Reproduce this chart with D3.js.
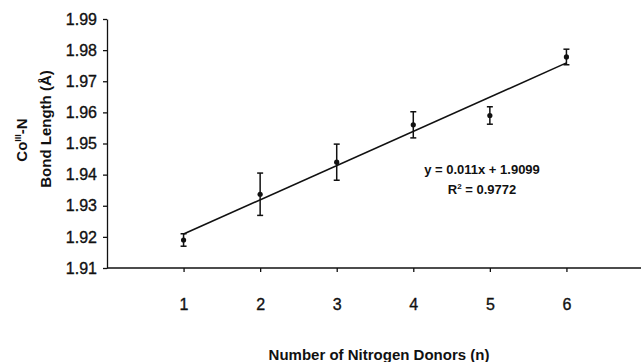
<!DOCTYPE html>
<html>
<head>
<meta charset="utf-8">
<script src="https://cdn.jsdelivr.net/npm/d3@7/dist/d3.min.js"></script>
<style>
  body { margin: 0; background: #fff; }
  svg.chart text { font-family: "Liberation Sans", Arial, sans-serif; fill: #111; }
</style>
</head>
<body>
<svg class="chart"></svg>
<script>
var donors = [1, 2, 3, 4, 5, 6];
var bondLength = [1.9190, 1.9337, 1.9440, 1.9560, 1.9590, 1.9778];
var errorBar = [0.0020, 0.0068, 0.0058, 0.0042, 0.0028, 0.0025];
var yTicks = [1.91, 1.92, 1.93, 1.94, 1.95, 1.96, 1.97, 1.98, 1.99];
var fitSlope = 0.011;
var fitIntercept = 1.9099;
var fitLabels = ['y = 0.011x + 1.9099', '= 0.9772'];

var width = 641, height = 362;

var svg = d3.select('svg.chart')
  .attr('width', width)
  .attr('height', height);

var x = d3.scaleLinear().domain([0, 7]).range([107, 643]);
var y = d3.scaleLinear().domain([1.91, 1.99]).range([268, 19]);

// y axis
var yAxis = d3.axisLeft(y)
  .tickValues(yTicks)
  .tickFormat(d3.format('.2f'))
  .tickSize(4)
  .tickSizeOuter(0)
  .tickPadding(6);

var gy = svg.append('g')
  .attr('transform', 'translate(' + x(0) + ',0)')
  .call(yAxis);

// x axis
var xAxis = d3.axisBottom(x)
  .tickValues(donors)
  .tickFormat(d3.format('d'))
  .tickSize(4)
  .tickSizeOuter(0)
  .tickPadding(27);

var gx = svg.append('g')
  .attr('transform', 'translate(0,' + y(1.91) + ')')
  .call(xAxis);

gx.select('.domain').attr('d', 'M' + x(0) + ',0H' + width);

[gx, gy].forEach(function (g) {
  g.selectAll('path, line').attr('stroke', '#111').attr('stroke-width', 1.3);
  g.selectAll('text')
    .attr('font-size', 16)
    .attr('fill', '#111')
    .attr('stroke', '#111')
    .attr('stroke-width', 0.35);
});

// trendline
svg.append('line')
  .attr('x1', x(1)).attr('y1', y(fitSlope * 1 + fitIntercept))
  .attr('x2', x(6)).attr('y2', y(fitSlope * 6 + fitIntercept))
  .attr('stroke', '#111')
  .attr('stroke-width', 1.6);

// error bars
var bars = svg.append('g').selectAll('g')
  .data(donors)
  .enter().append('g');

bars.append('line')
  .attr('x1', function (d) { return x(d); })
  .attr('x2', function (d) { return x(d); })
  .attr('y1', function (d, i) { return y(bondLength[i] + errorBar[i]); })
  .attr('y2', function (d, i) { return y(bondLength[i] - errorBar[i]); })
  .attr('stroke', '#111').attr('stroke-width', 1.5);

[1, -1].forEach(function (s) {
  bars.append('line')
    .attr('x1', function (d) { return x(d) - 3; })
    .attr('x2', function (d) { return x(d) + 3; })
    .attr('y1', function (d, i) { return y(bondLength[i] + s * errorBar[i]); })
    .attr('y2', function (d, i) { return y(bondLength[i] + s * errorBar[i]); })
    .attr('stroke', '#111').attr('stroke-width', 1.5);
});

bars.append('circle')
  .attr('cx', function (d) { return x(d); })
  .attr('cy', function (d, i) { return y(bondLength[i]); })
  .attr('r', 2.6)
  .attr('fill', '#111');

// equation
var eq = svg.append('text')
  .attr('x', 482)
  .attr('y', 174)
  .attr('text-anchor', 'middle')
  .attr('font-size', 13)
  .attr('font-weight', 'bold');
eq.append('tspan').text(fitLabels[0]);
var r2 = eq.append('tspan').attr('x', 482).attr('dy', 20);
r2.append('tspan').text('R');
r2.append('tspan').attr('font-size', 8).attr('dy', -5).text('2');
r2.append('tspan').attr('dy', 5).text(' ' + fitLabels[1]);

// axis titles
svg.append('text')
  .attr('x', 379)
  .attr('y', 360)
  .attr('text-anchor', 'middle')
  .attr('font-size', 15)
  .attr('font-weight', 'bold')
  .text('Number of Nitrogen Donors (n)');

var yTitle = svg.append('text')
  .attr('transform', 'translate(27,140) rotate(-90)')
  .attr('text-anchor', 'middle')
  .attr('font-size', 15)
  .attr('font-weight', 'bold');
yTitle.append('tspan').text('Co');
yTitle.append('tspan').attr('font-size', 9).attr('dy', -6).text('III');
yTitle.append('tspan').attr('dy', 6).text('-N');

svg.append('text')
  .attr('transform', 'translate(51,129) rotate(-90)')
  .attr('text-anchor', 'middle')
  .attr('font-size', 15)
  .attr('font-weight', 'bold')
  .text('Bond Length (Å)');
</script>
</body>
</html>
